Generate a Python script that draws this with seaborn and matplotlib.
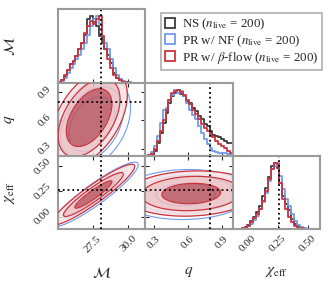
import numpy as np
import pandas as pd
import matplotlib
matplotlib.use("Agg")
import matplotlib.pyplot as plt
import seaborn as sns
from matplotlib.patches import Patch

# ---- data ----
params = ["mc", "q", "chi"]
limits = {"mc": (25.07, 31.17), "q": (0.22, 1.0), "chi": (-0.12, 0.60)}
ticks = {"mc": [27.5, 30.0], "q": [0.3, 0.6, 0.9], "chi": [0.0, 0.25, 0.5]}
tick_labels = {"mc": ["27.5", "30.0"], "q": ["0.3", "0.6", "0.9"], "chi": ["0.00", "0.25", "0.50"]}
axis_labels = {"mc": r"$\mathcal{M}$", "q": r"$q$", "chi": r"$\chi_{\rm eff}$"}
truths = {"mc": 28.05, "q": 0.80, "chi": 0.26}

# 1D histograms (30 bins over each axis range, peak normalised to 1)
mc_ns = [0.02, 0.04, 0.10, 0.20, 0.28, 0.33, 0.40, 0.50, 0.60, 0.72, 0.95, 1.00, 0.90, 0.85, 0.70,
         0.60, 0.50, 0.42, 0.30, 0.15, 0.08, 0.04, 0.02, 0.01, 0.01, 0, 0, 0, 0, 0]
mc_nf = [0.01, 0.03, 0.07, 0.15, 0.22, 0.28, 0.35, 0.42, 0.50, 0.60, 0.72, 0.85, 0.95, 1.00, 0.88,
         0.70, 0.60, 0.50, 0.35, 0.22, 0.12, 0.06, 0.03, 0.02, 0.01, 0, 0, 0, 0, 0]
mc_bf = [0.02, 0.05, 0.12, 0.20, 0.28, 0.32, 0.40, 0.50, 0.60, 0.75, 0.85, 0.92, 0.88, 0.95, 1.00,
         0.70, 0.50, 0.35, 0.22, 0.12, 0.08, 0.04, 0.02, 0.01, 0, 0, 0, 0, 0, 0]

q_ns = [0.0, 0.01, 0.03, 0.08, 0.20, 0.35, 0.50, 0.65, 0.80, 0.90, 0.95, 1.00, 0.93, 0.90, 0.82,
        0.80, 0.72, 0.68, 0.60, 0.55, 0.48, 0.45, 0.38, 0.32, 0.30, 0.28, 0.25, 0.22, 0.20, 0.20]
q_nf = [0.0, 0.02, 0.06, 0.15, 0.30, 0.50, 0.70, 0.72, 0.85, 0.92, 1.00, 0.95, 0.98, 0.90, 0.80,
        0.70, 0.62, 0.55, 0.45, 0.35, 0.25, 0.18, 0.12, 0.08, 0.06, 0.05, 0.05, 0.04, 0.03, 0.02]
q_bf = [0.0, 0.01, 0.03, 0.10, 0.22, 0.38, 0.55, 0.70, 0.85, 0.95, 0.98, 1.00, 0.97, 0.92, 0.85,
        0.78, 0.70, 0.63, 0.55, 0.48, 0.42, 0.38, 0.32, 0.28, 0.22, 0.18, 0.15, 0.12, 0.08, 0.05]

chi_ns = [0, 0, 0, 0.01, 0.03, 0.06, 0.12, 0.18, 0.25, 0.35, 0.50, 0.62, 0.78, 0.95, 1.00,
          0.92, 0.70, 0.50, 0.38, 0.28, 0.15, 0.08, 0.04, 0.02, 0.01, 0, 0, 0, 0, 0]
chi_nf = [0, 0, 0, 0.01, 0.02, 0.04, 0.08, 0.14, 0.20, 0.30, 0.40, 0.55, 0.72, 0.90, 0.95,
          1.00, 0.80, 0.60, 0.45, 0.35, 0.22, 0.12, 0.06, 0.03, 0.01, 0, 0, 0, 0, 0]
chi_bf = [0, 0, 0, 0.01, 0.02, 0.05, 0.10, 0.16, 0.22, 0.30, 0.42, 0.58, 0.75, 0.90, 1.00,
          0.98, 0.70, 0.45, 0.30, 0.18, 0.10, 0.05, 0.02, 0.01, 0, 0, 0, 0, 0, 0]

hists = {"mc": [mc_ns, mc_nf, mc_bf], "q": [q_ns, q_nf, q_bf], "chi": [chi_ns, chi_nf, chi_bf]}

# 2D contour shapes: (mean_x, mean_y, sd_x, sd_y, corr)
nf_2d = {("mc", "q"): (27.45, 0.56, 1.15, 0.21, 0.35),
         ("mc", "chi"): (27.65, 0.22, 1.05, 0.11, 0.92),
         ("q", "chi"): (0.58, 0.22, 0.20, 0.085, 0.05)}
bf_2d = {("mc", "q"): (27.25, 0.63, 1.14, 0.22, 0.47),
         ("mc", "chi"): (27.55, 0.22, 1.0, 0.103, 0.93),
         ("q", "chi"): (0.63, 0.23, 0.20, 0.077, 0.10)}
# contour levels (in Mahalanobis radius) per panel
levels_2d = {("mc", "q"): [1.4, 1.9, 2.35],
             ("mc", "chi"): [1.3, 2.1, 2.9],
             ("q", "chi"): [1.3, 2.2, 2.9]}

labels = [r"NS ($n_{\rm live}$ = 200)", r"PR w/ NF ($n_{\rm live}$ = 200)",
          r"PR w/ $\beta$-flow ($n_{\rm live}$ = 200)"]
colors = ["#3c3c3c", "#6f9bee", "#c9343f"]
fill_colors = ["#b9535f", "#ebc0c4", "#f7e1e3"]

# ---- style ----
sns.set_style("ticks")
plt.rcParams["font.family"] = ["Liberation Serif", "DejaVu Serif"]
plt.rcParams["mathtext.fontset"] = "stix"

fig = plt.figure(figsize=(3.32, 2.87), dpi=100)
W, H = 332.0, 287.0
col_x = [(58, 145), (145, 233), (233, 320)]
row_y = [(9, 83), (83, 156), (156, 229)]
spine_col = "#9b9b9b"


def make_ax(i, j):
    x0, x1 = col_x[j]
    y0, y1 = row_y[i]
    ax = fig.add_axes([x0 / W, 1 - y1 / H, (x1 - x0) / W, (y1 - y0) / H])
    for s in ax.spines.values():
        s.set_color(spine_col)
        s.set_linewidth(1.5)
    return ax


def mahal(px, py, p):
    mx, my, sx, sy, r = p
    xs = np.linspace(*limits[px], 200)
    ys = np.linspace(*limits[py], 200)
    X, Y = np.meshgrid(xs, ys)
    u = (X - mx) / sx
    v = (Y - my) / sy
    d2 = (u * u - 2 * r * u * v + v * v) / (1 - r * r)
    return X, Y, np.sqrt(d2)


for i, py in enumerate(params):
    for j, px in enumerate(params):
        if j > i:
            continue
        ax = make_ax(i, j)
        if i == j:
            lo, hi = limits[px]
            edges = np.linspace(lo, hi, 31)
            centers = 0.5 * (edges[1:] + edges[:-1])
            for vals, c in zip(hists[px], colors):
                df = pd.DataFrame({"x": centers, "w": vals})
                sns.histplot(data=df, x="x", weights="w", bins=list(edges), element="step",
                             fill=False, color=c, linewidth=1.3, ax=ax)
            ax.axvline(truths[px], color="k", ls=":", lw=1.3)
            ax.set_ylim(0, 1.1)
            ax.set_yticks([])
            ax.tick_params(axis="x", direction="in", length=3, width=0.8, top=False)
            ax.set_ylabel("")
        else:
            key = (px, py)
            lev = levels_2d[key]
            X, Y, D = mahal(px, py, nf_2d[key])
            ax.contour(X, Y, D, levels=lev, colors=colors[1], linewidths=0.8, zorder=1)
            X, Y, D = mahal(px, py, bf_2d[key])
            ax.contourf(X, Y, D, levels=[0] + lev, colors=fill_colors, alpha=0.85, zorder=2)
            ax.contour(X, Y, D, levels=lev, colors=colors[2], linewidths=0.9, zorder=3)
            ax.axvline(truths[px], color="k", ls=":", lw=1.3, zorder=4)
            ax.axhline(truths[py], color="k", ls=":", lw=1.3, zorder=4)
            ax.set_ylim(*limits[py])
            ax.set_yticks(ticks[py])
            ax.tick_params(axis="both", direction="in", length=3, width=0.8, top=True, right=True)
            if j == 0:
                ax.set_yticklabels(tick_labels[py], rotation=45, va="center", fontsize=8)
            else:
                ax.set_yticklabels([])
        ax.set_xlim(*limits[px])
        ax.set_xticks(ticks[px])
        if i == 2:
            ax.set_xticklabels(tick_labels[px], rotation=45, fontsize=8)
            ax.set_xlabel(axis_labels[px], fontsize=11)
            ax.xaxis.set_label_coords(0.5, -0.49)
        else:
            ax.set_xticklabels([])
            ax.set_xlabel("")
        if j == 0:
            ax.set_ylabel(axis_labels[py], fontsize=11)
            ax.yaxis.set_label_coords(-0.47, 0.5)

handles = [Patch(facecolor="none", edgecolor=c, linewidth=1.3) for c in colors]
leg = fig.legend(handles, labels, loc="upper right", bbox_to_anchor=(322 / W, 1 - 12.5 / H),
                 fontsize=9.3, frameon=True, fancybox=False, borderaxespad=0,
                 handlelength=0.8, handleheight=0.8, handletextpad=0.5, labelspacing=0.1,
                 borderpad=0.3)
leg.get_frame().set_edgecolor(spine_col)
leg.get_frame().set_linewidth(1.2)

fig.savefig("out.png", dpi=100)
